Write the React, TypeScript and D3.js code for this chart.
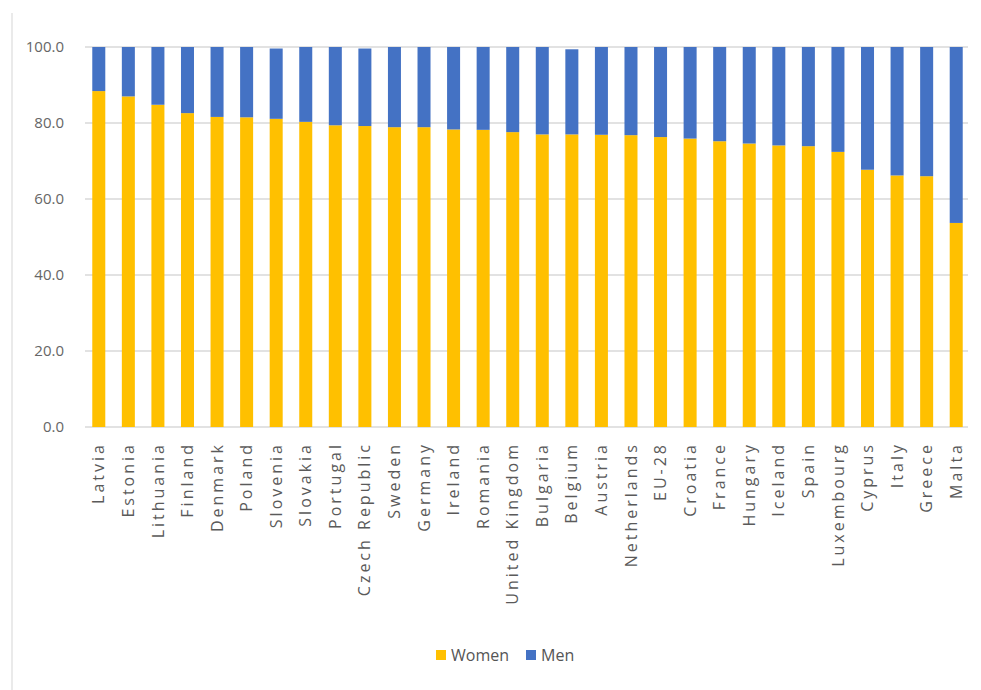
import React from "react";
import * as d3 from "d3";

const countries = ["Latvia","Estonia","Lithuania","Finland","Denmark","Poland","Slovenia","Slovakia","Portugal","Czech Republic","Sweden","Germany","Ireland","Romania","United Kingdom","Bulgaria","Belgium","Austria","Netherlands","EU-28","Croatia","France","Hungary","Iceland","Spain","Luxembourg","Cyprus","Italy","Greece","Malta"];
const women = [88.4,87.0,84.8,82.6,81.6,81.5,81.1,80.3,79.4,79.2,78.9,78.9,78.3,78.2,77.6,77.0,77.0,76.9,76.8,76.3,75.9,75.2,74.6,74.1,73.9,72.4,67.7,66.2,66.0,53.7];
const men = [11.6,13.0,15.2,17.4,18.4,18.5,18.5,19.7,20.6,20.4,21.1,21.1,21.7,21.8,22.4,23.0,22.4,23.1,23.2,23.7,24.1,24.8,25.4,25.9,26.1,27.6,32.3,33.8,34.0,46.3];
const yTicks = [0, 20, 40, 60, 80, 100];
const seriesNames = ["Women", "Men"];
const seriesColors = ["#FFC000", "#4472C4"];

const W = 981, H = 690;
const M = { left: 84, right: 10, top: 47, bottom: 263 };

export default function App() {
  const x = d3.scaleBand<string>().domain(countries).range([M.left, W - M.right + 0]).paddingInner(0.56).paddingOuter(0.28);
  const y = d3.scaleLinear().domain([0, 100]).range([H - M.bottom, M.top]);
  const gridX0 = 85, gridX1 = 968;
  const labelFont = "'Open Sans', sans-serif";
  return (
    <svg width={W} height={H} style={{ position: "absolute", left: 0, top: 0, background: "#fff" }} fontFamily={labelFont}>
      <line x1={12} x2={12} y1={13} y2={H} stroke="#e3e3e3" strokeWidth={1.5} />
      {yTicks.map(t => (
        <g key={t}>
          <line x1={gridX0} x2={gridX1} y1={y(t)} y2={y(t)} stroke="#d9d9d9" strokeWidth={1.5} />
          <text x={64} y={y(t)} dy="0.35em" textAnchor="end" fontSize={15} fill="#666">{t.toFixed(1)}</text>
        </g>
      ))}
      {countries.map((c, i) => {
        const bx = x(c)!;
        return (
          <g key={c}>
            <rect x={bx} width={x.bandwidth()} y={y(women[i])} height={y(0) - y(women[i])} fill={seriesColors[0]} />
            <rect x={bx} width={x.bandwidth()} y={y(women[i] + men[i])} height={y(women[i]) - y(women[i] + men[i])} fill={seriesColors[1]} />
            <text transform={`translate(${bx + x.bandwidth() / 2},${y(0) + 15}) rotate(-90)`} dy="0.35em" textAnchor="end" fontSize={16} letterSpacing={3} fill="#5a5a5a">{c}</text>
          </g>
        );
      })}
      <g transform="translate(436,650)">
        <rect x={0} y={0} width={10} height={10} fill={seriesColors[0]} />
        <text x={15} y={5} dy="0.35em" fontSize={16} fill="#555">{seriesNames[0]}</text>
        <rect x={90} y={0} width={10} height={10} fill={seriesColors[1]} />
        <text x={105} y={5} dy="0.35em" fontSize={16} fill="#555">{seriesNames[1]}</text>
      </g>
    </svg>
  );
}
